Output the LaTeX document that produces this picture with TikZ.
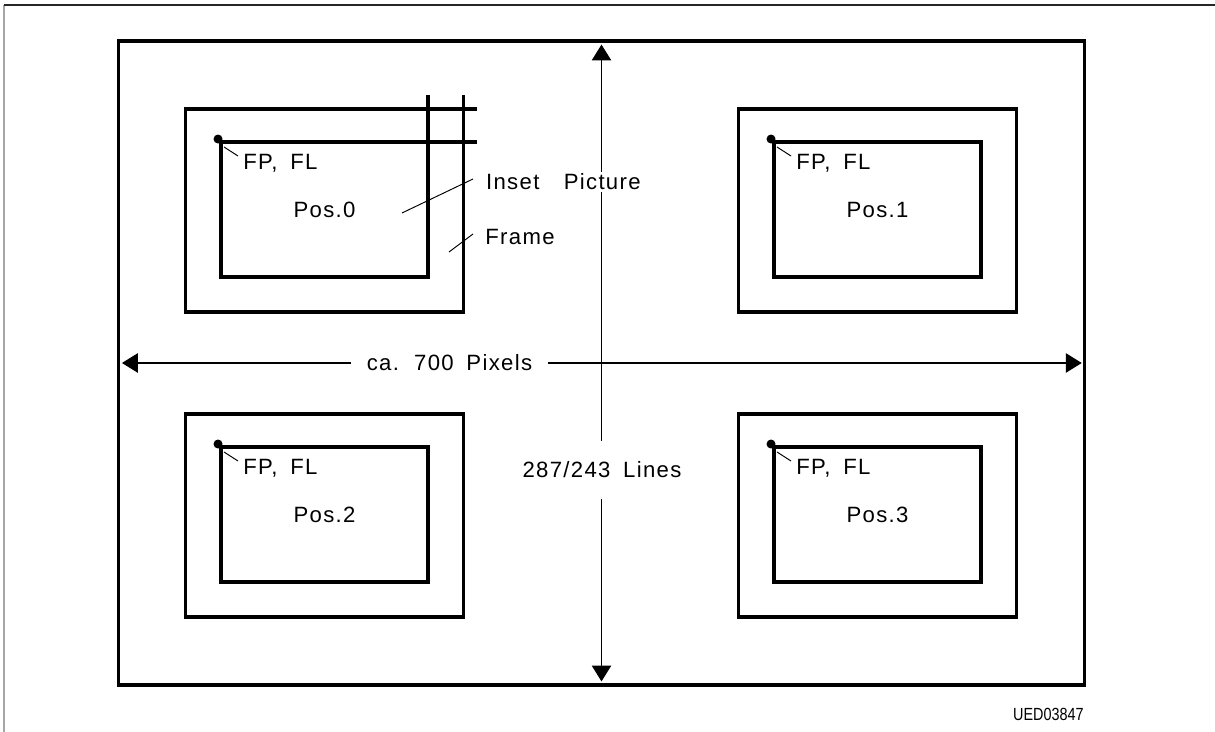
\documentclass[tikz,border=0pt]{standalone}
\usepackage{fontspec}
\setmainfont{Liberation Sans}[LetterSpace=6,WordSpace=1.7]
\usetikzlibrary{arrows.meta,positioning}

\begin{document}
\begin{tikzpicture}[
    x=0.02cm, y=-0.02cm,
    outline/.style={line width=1.8pt},
    framebox/.style={draw, line width=1.8pt, minimum width=5.56cm, minimum height=4.06cm, inner sep=0pt, outer sep=0pt},
    picbox/.style={draw, line width=1.8pt, minimum width=4.14cm, minimum height=2.7cm, inner sep=0pt, outer sep=0pt, font=\fontsize{12.6}{14}\selectfont},
    dim/.style={line width=0.65pt, {Triangle[length=9pt,width=11pt]}-{Triangle[length=9pt,width=11pt]}},
    leader/.style={line width=0.55pt},
    lbl/.style={font=\fontsize{12.6}{14}\selectfont, inner sep=0pt},
    gap/.style={lbl, fill=white}
]
\useasboundingbox (0,0) rectangle (1215,732);

% page edge
\draw[gray!70, line width=0.8pt] (4,732) -- (4,5);
\draw[black!85, line width=1pt] (4,5) -- (1215,5);

% screen
\node[draw, line width=1.8pt, minimum width=19.34cm, minimum height=12.88cm, outer sep=0pt] (screen) at (601.5,363) {};

% dimension arrows
\draw[dim] ([yshift=-2pt]screen.north) -- ([yshift=2pt]screen.south);
\draw[dim] ([xshift=2.2pt]screen.west) -- ([xshift=-1.8pt]screen.east);
\node[gap, inner xsep=9pt, inner ysep=3pt] (width) at (449.5,363) {ca. 700 Pixels};
\node[gap, inner xsep=2pt, inner ysep=12pt] (height) at (602,470) {287/243 Lines};

% the four positions
\foreach \n/\x/\y in {0/324.5/210.5, 1/877.5/210.5, 2/324.5/515.5, 3/877.5/515.5}{
  \node[framebox] (frame\n) at (\x,\y) {};
  \node[picbox] (pic\n) at (\x,\y-1) {Pos.\n};
  \coordinate (dot\n) at ([shift={(-3,-3)}]pic\n.north west);
  \fill (dot\n) circle (0.09cm);
  \node[lbl, anchor=west] (fp\n) at ([shift={(22,21)}]pic\n.north west) {FP, FL};
  \draw[leader] ([shift={(6,8)}]dot\n) -- ([shift={(-5,-7)}]fp\n.west);
}

% inset and frame edges of Pos.0
\draw[outline] (frame0.north east) -- ++(14,0);
\draw[outline] (pic0.north east) -- ++(49,0);
\draw[outline] (frame0.north east) -- ++(0,-14);
\draw[outline] (pic0.north east) -- ++(0,-47);

\node[gap, anchor=west, inner sep=1pt] (insetlbl) at (484,182) {Inset\hspace{1.1em}Picture};
\node[lbl, anchor=west] (framelbl) at (485,237) {Frame};
\draw[leader] ([shift={(-82,31)}]insetlbl.west) -- ([shift={(-11,-3)}]insetlbl.west);
\draw[leader] ([shift={(-36,15)}]framelbl.west) -- ([shift={(-12,-3)}]framelbl.west);

\node[anchor=east, inner sep=0pt] (docid) at (1084,714)
  {\scalebox{0.82}[1]{\fontsize{10}{11}\selectfont\addfontfeature{LetterSpace=0}UED03847}};
\end{tikzpicture}
\end{document}
